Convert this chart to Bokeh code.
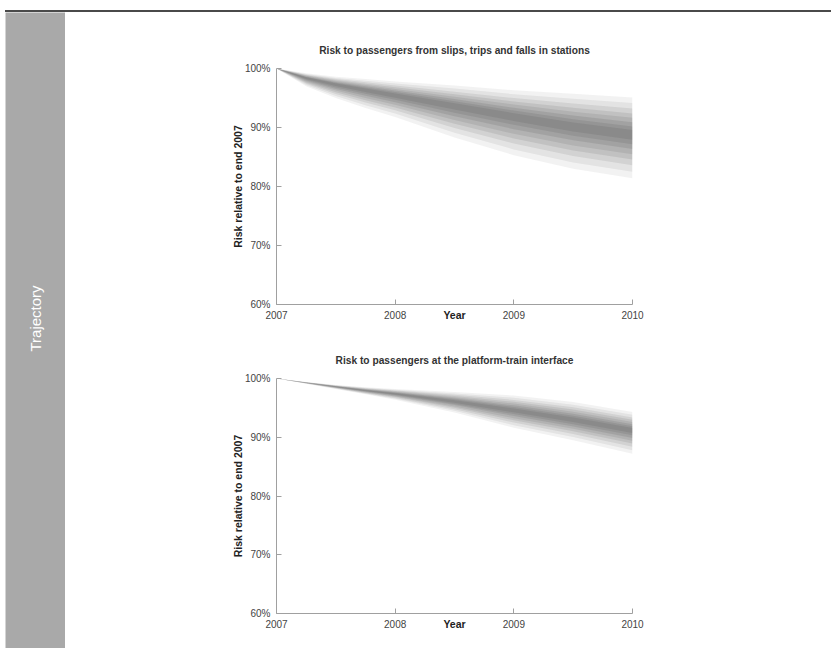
from bokeh.plotting import figure
from bokeh.models import Range1d, FixedTicker, PrintfTickFormatter, Label, ColumnDataSource, Spacer, Div
from bokeh.layouts import column, row
from bokeh.embed import file_html
from bokeh.resources import INLINE
import math

# ---------------- data ----------------
years = [2007, 2007.25, 2007.5, 2007.75, 2008, 2008.5, 2009, 2009.5, 2010]
x_ticks = [2007, 2008, 2009, 2010]
y_ticks = [60, 70, 80, 90, 100]

# Chart 1: slips, trips and falls in stations (percentile bands, outer -> inner)
c1_b0_hi = [100, 99.20, 98.60, 98.20, 97.80, 97.10, 96.30, 95.70, 95.10]
c1_b0_lo = [100, 97.00, 95.00, 93.30, 91.80, 88.30, 85.30, 83.00, 81.40]
c1_b1_hi = [100, 99.08, 98.41, 97.93, 97.46, 96.59, 95.64, 94.88, 94.16]
c1_b1_lo = [100, 97.21, 95.35, 93.77, 92.36, 89.11, 86.29, 84.08, 82.51]
c1_b2_hi = [100, 98.96, 98.21, 97.66, 97.11, 96.08, 94.98, 94.05, 93.21]
c1_b2_lo = [100, 97.42, 95.69, 94.23, 92.91, 89.92, 87.28, 85.16, 83.62]
c1_b3_hi = [100, 98.86, 98.04, 97.43, 96.81, 95.64, 94.41, 93.34, 92.39]
c1_b3_lo = [100, 97.60, 95.99, 94.63, 93.39, 90.62, 88.14, 86.10, 84.58]
c1_b4_hi = [100, 98.76, 97.89, 97.21, 96.54, 95.23, 93.88, 92.68, 91.64]
c1_b4_lo = [100, 97.77, 96.27, 95.01, 93.84, 91.27, 88.93, 86.96, 85.47]
c1_b5_hi = [100, 98.66, 97.73, 96.99, 96.26, 94.82, 93.35, 92.02, 90.88]
c1_b5_lo = [100, 97.94, 96.54, 95.38, 94.28, 91.92, 89.72, 87.82, 86.36]
c1_b6_hi = [100, 98.58, 97.59, 96.80, 96.01, 94.45, 92.87, 91.41, 90.19]
c1_b6_lo = [100, 98.09, 96.79, 95.72, 94.69, 92.51, 90.45, 88.62, 87.17]
c1_b7_hi = [100, 98.50, 97.46, 96.62, 95.78, 94.11, 92.43, 90.86, 89.56]
c1_b7_lo = [100, 98.23, 97.02, 96.03, 95.06, 93.05, 91.11, 89.34, 87.91]

# Chart 2: platform-train interface
c2_b0_hi = [100, 99.40, 98.90, 98.50, 98.20, 97.70, 97.10, 96.00, 94.30]
c2_b0_lo = [100, 99.10, 98.20, 97.30, 96.40, 94.20, 91.60, 89.50, 87.20]
c2_b1_hi = [100, 99.38, 98.86, 98.42, 98.08, 97.46, 96.73, 95.55, 93.84]
c2_b1_lo = [100, 99.13, 98.26, 97.40, 96.55, 94.49, 92.05, 90.03, 87.80]
c2_b2_hi = [100, 99.36, 98.81, 98.34, 97.96, 97.22, 96.35, 95.10, 93.37]
c2_b2_lo = [100, 99.15, 98.32, 97.50, 96.70, 94.77, 92.50, 90.55, 88.40]
c2_b3_hi = [100, 99.35, 98.77, 98.26, 97.86, 97.01, 96.03, 94.71, 92.97]
c2_b3_lo = [100, 99.18, 98.37, 97.58, 96.83, 95.02, 92.89, 91.01, 88.92]
c2_b4_hi = [100, 99.33, 98.74, 98.20, 97.76, 96.82, 95.73, 94.35, 92.60]
c2_b4_lo = [100, 99.20, 98.42, 97.66, 96.95, 95.25, 93.25, 91.43, 89.40]
c2_b5_hi = [100, 99.32, 98.70, 98.13, 97.66, 96.63, 95.43, 93.99, 92.22]
c2_b5_lo = [100, 99.22, 98.47, 97.74, 97.07, 95.47, 93.61, 91.85, 89.88]
c2_b6_hi = [100, 99.31, 98.67, 98.07, 97.58, 96.45, 95.15, 93.66, 91.88]
c2_b6_lo = [100, 99.24, 98.51, 97.81, 97.18, 95.68, 93.94, 92.23, 90.32]
c2_b7_hi = [100, 99.29, 98.64, 98.02, 97.50, 96.29, 94.90, 93.36, 91.57]
c2_b7_lo = [100, 99.26, 98.55, 97.87, 97.28, 95.87, 94.24, 92.58, 90.72]

title1 = "Risk to passengers from slips, trips and falls in stations"
title2 = "Risk to passengers at the platform-train interface"
y_label = "Risk relative to end 2007"
x_label = "Year"
side_text = "Trajectory"

FONT = "Liberation Sans"
band_alphas = [0.07, 0.09, 0.11, 0.12, 0.13, 0.14, 0.14, 0.14]

CHART_W = 759
LEFT = 211
FRAME_W = 356


def make_chart(title, bands, height, top, frame_h):
    p = figure(width=CHART_W, height=height, toolbar_location=None, output_backend="svg",
               x_range=Range1d(2007, 2010), y_range=Range1d(60, 100),
               min_border_left=LEFT, min_border_right=CHART_W - LEFT - FRAME_W,
               min_border_top=top, min_border_bottom=height - top - frame_h,
               background_fill_color="white", border_fill_color="white")
    p.outline_line_color = None
    p.grid.visible = False
    for (lo, hi), a in zip(bands, band_alphas):
        src = ColumnDataSource(dict(x=years, lo=lo, hi=hi))
        p.varea(x="x", y1="lo", y2="hi", source=src, fill_color="#4a4a4a", fill_alpha=a)

    p.title.text = title
    p.title.align = "center"
    p.title.text_font = FONT
    p.title.text_font_size = "10.2px"
    p.title.text_font_style = "bold"
    p.title.text_color = "#333333"
    p.title.standoff = 26

    for ax in (p.xaxis[0], p.yaxis[0]):
        ax.axis_line_color = "#a0a0a0"
        ax.major_tick_line_color = "#a0a0a0"
        ax.minor_tick_line_color = None
        ax.major_tick_in = 5
        ax.major_tick_out = 0
        ax.major_label_text_font = FONT
        ax.major_label_text_font_size = "10px"
        ax.major_label_text_color = "#444444"
        ax.axis_label_text_font = FONT
        ax.axis_label_text_font_size = "10.5px"
        ax.axis_label_text_font_style = "bold"
        ax.axis_label_text_color = "#222222"
        ax.major_label_standoff = 6

    p.xaxis.ticker = FixedTicker(ticks=x_ticks)
    p.yaxis.ticker = FixedTicker(ticks=y_ticks)
    p.yaxis.formatter = PrintfTickFormatter(format="%d%%")
    p.xaxis.axis_label = x_label
    p.xaxis.axis_label_standoff = -13
    p.yaxis.axis_label = y_label
    p.yaxis.axis_label_standoff = -2
    return p


bands1 = [(c1_b0_lo, c1_b0_hi), (c1_b1_lo, c1_b1_hi), (c1_b2_lo, c1_b2_hi), (c1_b3_lo, c1_b3_hi),
          (c1_b4_lo, c1_b4_hi), (c1_b5_lo, c1_b5_hi), (c1_b6_lo, c1_b6_hi), (c1_b7_lo, c1_b7_hi)]
bands2 = [(c2_b0_lo, c2_b0_hi), (c2_b1_lo, c2_b1_hi), (c2_b2_lo, c2_b2_hi), (c2_b3_lo, c2_b3_hi),
          (c2_b4_lo, c2_b4_hi), (c2_b5_lo, c2_b5_hi), (c2_b6_lo, c2_b6_hi), (c2_b7_lo, c2_b7_hi)]

p1 = make_chart(title1, bands1, 326, 56, 236)
p2 = make_chart(title2, bands2, 302, 40, 235)

# top rule
rule = Div(text="", width=826, height=2, margin=0, styles={"background-color": "#4a4a4a"})

# side bar
SIDE_H = 636
side = figure(width=60, height=SIDE_H, toolbar_location=None, output_backend="svg",
              x_range=Range1d(0, 1), y_range=Range1d(0, SIDE_H), min_border=0)
side.axis.visible = False
side.grid.visible = False
side.outline_line_color = None
side.background_fill_color = "#a9a9a9"
side.border_fill_color = "#a9a9a9"
side.add_layout(Label(x=0.5, y=SIDE_H - 306, text=side_text, angle=math.pi / 2,
                      text_align="center", text_baseline="middle",
                      text_font=FONT, text_font_size="15px", text_color="white"))

layout = column(Spacer(height=10, width=831),
                row(Spacer(width=5, height=2), rule),
                row(Spacer(width=5, height=SIDE_H), side, column(p1, p2)))

open("out.html", "w").write(file_html(layout, INLINE))
